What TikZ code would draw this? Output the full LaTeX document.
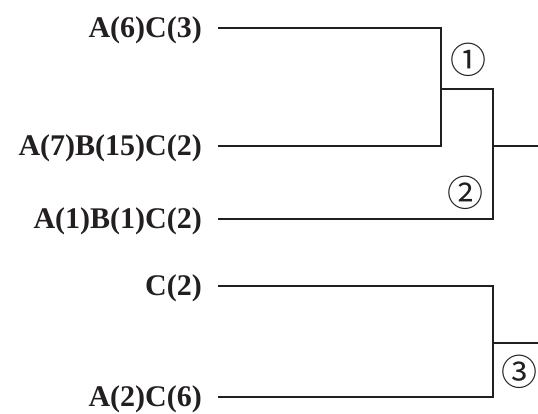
\documentclass[tikz,border=0pt]{standalone}
\usepackage{fontspec}
\setmainfont{Liberation Serif}
\newfontfamily\circfont{Noto Sans CJK SC}
\definecolor{ink}{HTML}{231F20}
\begin{document}
\begin{tikzpicture}[x=1pt,y=-1pt,
  lab/.style={anchor=east,inner sep=0pt,font=\bfseries\fontsize{30}{30}\selectfont,text=ink},
  num/.style={inner sep=0pt,font=\circfont\fontsize{36}{36}\selectfont,text=ink},
  wire/.style={draw=ink,line width=2pt}]
\useasboundingbox (0,0) rectangle (538,413);
% labels
\node[lab] (t1) at (202,30) {A(6)C(3)};
\node[lab] (t2) at (202,148) {A(7)B(15)C(2)};
\node[lab] (t3) at (202,221) {A(1)B(1)C(2)};
\node[lab] (t4) at (202,288) {C(2)};
\node[lab] (t5) at (202,399) {A(2)C(6)};
% line starts
\coordinate (s1) at (218,28);
\coordinate (s2) at (218,146);
\coordinate (s3) at (218,219);
\coordinate (s4) at (218,286);
\coordinate (s5) at (218,397);
% junctions
\coordinate (j1) at (441,89);
\coordinate (j2) at (493,146);
\coordinate (j3) at (493,343);
\coordinate (o1) at (538,146);
\coordinate (o2) at (538,343);
% tree 1
\draw[wire] (s1) -| (j1) |- (s2);
\draw[wire] (j1) -| (j2) |- (s3);
\draw[wire] (j2) -- (o1);
% tree 2
\draw[wire] (s4) -| (j3) |- (s5);
\draw[wire] (j3) -- (o2);
% circled numbers
\node[num] (n1) at (468,60) {①};
\node[num] (n2) at (465,193) {②};
\node[num] (n3) at (519,372) {③};
\end{tikzpicture}
\end{document}
